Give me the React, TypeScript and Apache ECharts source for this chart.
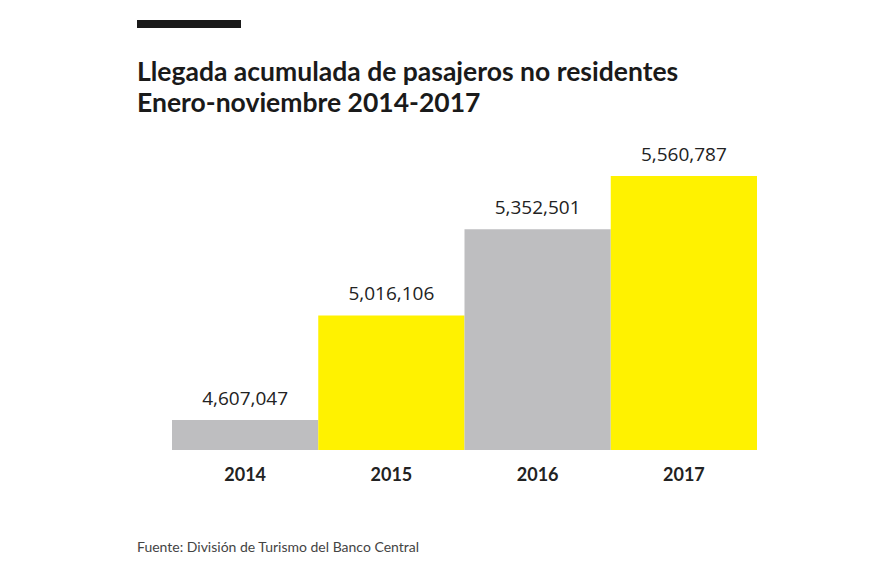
import React, { useEffect, useRef } from "react";
import * as echarts from "echarts";

const categories = ["2014", "2015", "2016", "2017"];
const values = [4607047, 5016106, 5352501, 5560787];
const barColors = ["#bebec0", "#fff200", "#bebec0", "#fff200"];
const titleLines = ["Llegada acumulada de pasajeros no residentes", "Enero-noviembre 2014-2017"];
const sourceText = "Fuente: División de Turismo del Banco Central";

const fmt = (v: number) => v.toLocaleString("en-US");

export default function App() {
  const ref = useRef<HTMLDivElement>(null);
  useEffect(() => {
    if (!ref.current) return;
    const chart = echarts.init(ref.current, null, { renderer: "svg" });
    chart.setOption({
      animation: false,
      backgroundColor: "#ffffff",
      graphic: [
        { type: "rect", shape: { x: 137, y: 20, width: 104, height: 8 }, style: { fill: "#1a1a1a" } },
        {
          type: "text",
          x: 137,
          y: 55,
          style: {
            text: titleLines.join("\n"),
            font: "bold 26.5px Lato",
            lineHeight: 31,
            fill: "#1a1a1a",
          },
        },
        {
          type: "text",
          x: 137,
          y: 539,
          style: { text: sourceText, font: "14px Lato", fill: "#444444" },
        },
      ],
      grid: { left: 172, right: 138, top: 176, bottom: 123 },
      xAxis: {
        type: "category",
        data: categories,
        axisLine: { show: false },
        axisTick: { show: false },
        axisLabel: { fontFamily: "Lato", fontWeight: "bold", fontSize: 18, color: "#222222", margin: 15 },
      },
      yAxis: {
        type: "value",
        min: 4490000,
        max: 5560787,
        show: false,
        splitLine: { show: false },
      },
      series: [
        {
          type: "bar",
          barCategoryGap: "0%",
          data: values.map((v, i) => ({ value: v, itemStyle: { color: barColors[i] } })),
          label: {
            show: true,
            position: "top",
            distance: 13,
            formatter: (p: any) => fmt(p.value),
            fontFamily: "Open Sans",
            fontSize: 19,
            color: "#222222",
          },
        },
      ],
    });
    return () => chart.dispose();
  }, []);
  return <div ref={ref} style={{ position: "absolute", left: 0, top: 0, width: 895, height: 573 }} />;
}
